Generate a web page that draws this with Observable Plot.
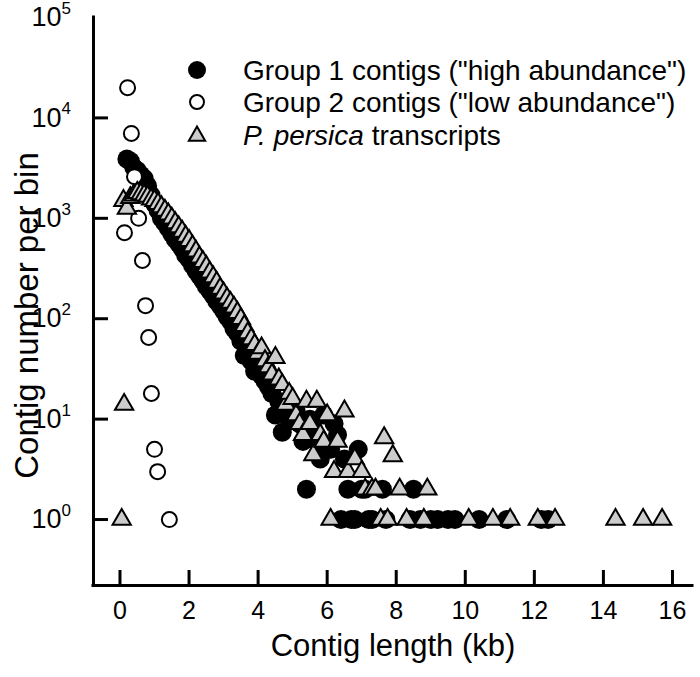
<!DOCTYPE html>
<html><head><meta charset="utf-8">
<script src="https://cdn.jsdelivr.net/npm/d3@7"></script>
<script src="https://cdn.jsdelivr.net/npm/@observablehq/plot@0.6"></script>
<style>body{margin:0;background:#fff}svg{display:block}</style>
</head><body><div id="chart"></div>
<script>
// Group 1 contigs ("high abundance") — filled circles
const group1Length = [0.2,0.3,0.4,0.5,0.6,0.7,0.8,0.9,1.0,1.1,1.2,1.3,1.4,1.5,1.6,1.7,1.8,1.9,2.0,2.1,2.2,2.3,2.4,2.5,2.6,2.7,2.8,2.9,3.0,3.1,3.2,3.3,3.4,3.5,3.6,3.7,3.8,3.9,4.0,4.1,4.2,4.3,4.4,4.5,4.6,4.7,4.8,4.9,5.0,5.1,5.2,5.3,5.4,5.5,5.6,5.7,5.8,5.9,6.0,6.1,6.2,6.3,6.4,6.5,6.6,6.7,6.8,6.9,7.0,7.1,7.2,7.3,7.6,7.7,8.4,8.5,8.7,9.0,9.2,9.5,9.7,10.4,11.2,12.2,12.4];
const group1Count  = [3900,3700,3200,3000,2700,2500,2100,1700,1400,1200,1000,900,800,700,620,560,500,430,390,340,300,270,240,210,190,170,150,135,120,105,95,80,72,60,43,50,38,30,33,27,24,21,18,11,15,7.4,12,10,13,12,9,6,2,10,8,6,4,11,5,5,9,7,1,4,2,1,1,5,2,2,1,1,2,1,1,2,1,1,1,1,1,1,1,1,1];
// Group 2 contigs ("low abundance") — open circles
const group2Length = [0.13,0.22,0.33,0.42,0.54,0.65,0.74,0.83,0.91,1.0,1.09,1.43];
const group2Count  = [720,20000,7000,2600,1000,380,135,65,18,5,3,1];
// P. persica transcripts — grey triangles
const persicaLength = [0.05,0.12,0.1,0.2,0.3,0.4,0.5,0.6,0.7,0.8,0.9,1.0,1.1,1.2,1.3,1.4,1.5,1.6,1.7,1.8,1.9,2.0,2.1,2.2,2.3,2.4,2.5,2.6,2.7,2.8,2.9,3.0,3.1,3.2,3.3,3.4,3.5,3.6,3.7,3.8,3.9,4.0,4.1,4.2,4.3,4.4,4.5,4.6,4.7,4.8,4.9,5.0,5.1,5.2,5.3,5.4,5.5,5.6,5.7,5.8,5.9,6.0,6.1,6.2,6.3,6.5,6.6,6.8,7.0,7.1,7.3,7.4,7.55,7.65,7.75,7.9,8.1,8.3,8.8,8.9,10.1,10.8,11.3,12.1,12.6,14.35,15.15,15.7];
const persicaCount  = [1,14,1500,1250,1600,1700,1800,1750,1700,1650,1550,1500,1400,1300,1200,1100,1000,900,820,740,660,600,530,470,410,370,330,290,260,230,200,180,160,145,130,115,100,85,72,63,55,45,51,38,33,28,41,25,22,14,18,16,11,9,7,15,9,4.4,15,7,6,11,1,3,6,12,3,4,3,2,2,2,1,6.5,1,4.3,2,1,1,2,1,1,1,1,1,1,1,1];

const xTicks = [0,2,4,6,8,10,12,14,16];
const yTickValues = [1,10,100,1000,10000];
const yLabelValues = [1,10,100,1000,10000,100000];
const xTitle = "Contig length (kb)";
const yTitle = "Contig number per bin";
const legendLabels = ['Group 1 contigs ("high abundance")','Group 2 contigs ("low abundance")','transcripts'];

const g1 = group1Length.map((x,i)=>({x, y: group1Count[i]}));
const g2 = group2Length.map((x,i)=>({x, y: group2Count[i]}));
const pp = persicaLength.map((x,i)=>({x, y: persicaCount[i]}));

const font = "'Liberation Sans', Arial, Helvetica, sans-serif";
const xDomain = [-0.767, 16.58];
const yDomain = [Math.pow(10,-0.657), 1e5];

const chart = Plot.plot({
  width: 700, height: 677,
  marginLeft: 93, marginRight: 8, marginTop: 17, marginBottom: 92,
  style: {fontFamily: font, background: "#fff", overflow: "visible"},
  x: {domain: xDomain, axis: null},
  y: {type: "log", domain: yDomain, axis: null},
  marks: [
    Plot.ruleX([xDomain[0]], {stroke: "#000", strokeWidth: 3, strokeLinecap: "square"}),
    Plot.ruleY([yDomain[0]], {stroke: "#000", strokeWidth: 3, strokeLinecap: "square"}),
    Plot.axisX({ticks: xTicks, tickSize: -15, strokeWidth: 3, tickFormat: () => "", label: null}),
    Plot.axisX({ticks: xTicks, tickSize: 0, tickPadding: 16, fontSize: 25, label: null, tickFormat: d => String(d), fill: "#000"}),
    Plot.axisY({ticks: yTickValues, tickSize: -15, strokeWidth: 3, tickFormat: () => "", label: null}),
    Plot.text(yLabelValues, {y: d => d, frameAnchor: "left", text: () => "10", textAnchor: "end", dx: -32, fontSize: 27, fill: "#000"}),
    Plot.text(yLabelValues, {y: d => d, frameAnchor: "left", text: d => String(Math.round(Math.log10(d))), textAnchor: "start", dx: -32, dy: -9, fontSize: 17, fill: "#000"}),
    Plot.text([xTitle], {frameAnchor: "bottom", textAnchor: "middle", lineAnchor: "middle", dy: 61, fontSize: 31, fill: "#000"}),
    Plot.text([yTitle], {frameAnchor: "left", textAnchor: "middle", lineAnchor: "middle", rotate: -90, dx: -66, dy: 14, fontSize: 33, fill: "#000"}),
    Plot.dot(g1, {x: "x", y: "y", r: 9.5, fill: "#000", stroke: "none"}),
    Plot.dot(g2, {x: "x", y: "y", r: 7.5, fill: "#fff", stroke: "#000", strokeWidth: 2}),
    Plot.dot(pp, {x: "x", y: "y", r: 6.8, symbol: "triangle", fill: "#cccccc", stroke: "#000", strokeWidth: 2})
  ]
});

// legend
const svg = d3.select(chart);
const lg = svg.append("g").attr("font-family", font).attr("font-size", 28).attr("text-anchor", "start").attr("fill", "#000");
const rows = [70, 102, 135];
lg.append("circle").attr("cx", 197).attr("cy", rows[0]).attr("r", 9).attr("fill", "#000");
lg.append("circle").attr("cx", 197).attr("cy", rows[1]).attr("r", 7).attr("fill", "#fff").attr("stroke", "#000").attr("stroke-width", 2);
lg.append("path").attr("transform", `translate(197,${rows[2]+1})`).attr("d", d3.symbol(d3.symbolTriangle, 115)()).attr("fill", "#ccc").attr("stroke", "#000").attr("stroke-width", 2);
lg.append("text").attr("x", 243).attr("y", rows[0]).attr("dy", "0.35em").text(legendLabels[0]);
lg.append("text").attr("x", 243).attr("y", rows[1]).attr("dy", "0.35em").text(legendLabels[1]);
const t3 = lg.append("text").attr("x", 243).attr("y", rows[2]).attr("dy", "0.35em");
t3.append("tspan").attr("font-style", "italic").text("P. persica");
t3.append("tspan").text(" " + legendLabels[2]);

document.getElementById("chart").appendChild(chart);
</script>
</body></html>
